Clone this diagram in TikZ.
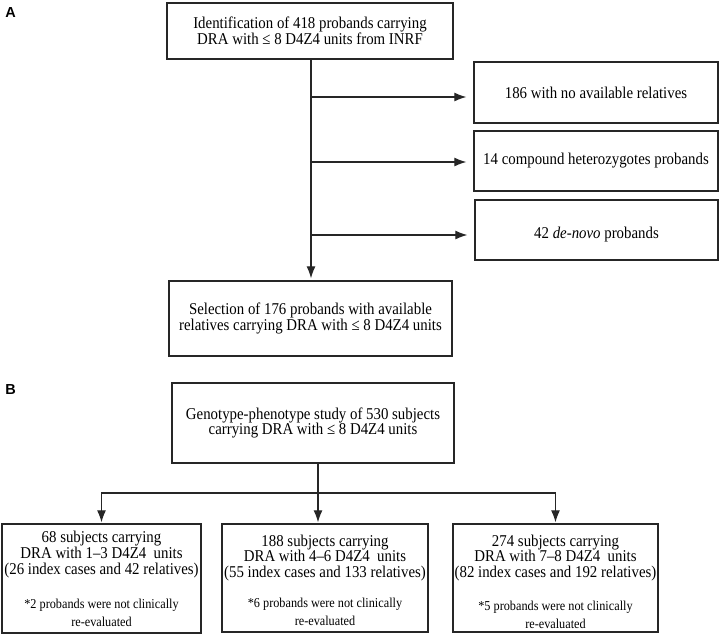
\documentclass[tikz,border=0pt]{standalone}
\usepackage{fontspec}
\setmainfont{Liberation Serif}[FakeStretch=0.9]
\newfontfamily\labelfont{Liberation Sans}
\usetikzlibrary{arrows.meta}
\newcommand\mainsz{\fontsize{16.5}{15.8}\selectfont}
\newcommand\notesz{\fontsize{13.6}{18}\selectfont}
\begin{document}
\begin{tikzpicture}[x=1pt,y=-1pt,
  box/.style={draw=black!85, line width=1.3pt, inner sep=0pt, align=center, font=\mainsz},
  txt/.style={inner sep=0pt, align=center, font=\mainsz},
  note/.style={inner sep=0pt, align=center, font=\notesz},
  arr/.style={draw=black!85, line width=1.2pt, -{Latex[length=12pt,width=9pt]}},
  ln/.style={draw=black!85, line width=1.2pt},
  panel/.style={inner sep=0pt, font=\labelfont\bfseries\fontsize{14.5}{14.5}\selectfont}]
\useasboundingbox (0,0) rectangle (720,635);

% panel labels
\node[panel] (pa) at (10.5,12.5) {A};
\node[panel] (pb) at (10.5,389.5) {B};

% ---------- Panel A ----------
\node[box, minimum width=286pt, minimum height=56pt] (a1) at (310,31)
  {Identification of 418 probands carrying\\DRA with ≤ 8 D4Z4 units from INRF};
\node[box, minimum width=244pt, minimum height=61pt] (r1) at (596,92.5)
  {186 with no available relatives};
\node[box, minimum width=244pt, minimum height=60pt] (r2) at (596,161)
  {14 compound heterozygotes probands};
\node[box, minimum width=243pt, minimum height=60pt] (r3) at (596.5,230) {};
\node[txt] (r3t) at (596.5,235) {42 \textit{de-novo} probands};
\node[box, minimum width=283pt, minimum height=75pt] (a2) at (310.5,318.5)
  {Selection of 176 probands with available\\relatives carrying DRA with ≤ 8 D4Z4 units};

\draw[arr, shorten >=2pt] (a1.south -| 311,0) -- (a2.north -| 311,0);
\coordinate (j1) at (311,97);
\coordinate (j2) at (311,162);
\coordinate (j3) at (311,235);
\draw[arr, shorten >=7pt] (j1) -- (j1 -| r1.west);
\draw[arr, shorten >=7pt] (j2) -- (j2 -| r2.west);
\draw[arr, shorten >=7pt] (j3) -- (j3 -| r3.west);

% ---------- Panel B ----------
\node[box, minimum width=282pt, minimum height=80pt] (b1) at (313,423)
  {Genotype-phenotype study of 530 subjects\\carrying DRA with ≤ 8 D4Z4 units};

\node[box, minimum width=199pt, minimum height=109pt] (c1) at (101.5,578.5) {};
\node[box, minimum width=206pt, minimum height=108pt] (c2) at (325,578) {};
\node[box, minimum width=205pt, minimum height=108pt] (c3) at (555.5,578) {};

\node[txt] (c1t) at (101.5,554.5)
  {68 subjects carrying\\DRA with 1--3 D4Z4~ units\\(26 index cases and 42 relatives)};
\node[note] (c1n) at (101.5,613) {*2 probands were not clinically\\re-evaluated};
\node[txt] (c2t) at (325,558)
  {188 subjects carrying\\DRA with 4--6 D4Z4~ units\\(55 index cases and 133 relatives)};
\node[note] (c2n) at (325,612) {*6 probands were not clinically\\re-evaluated};
\node[txt] (c3t) at (555.5,558)
  {274 subjects carrying\\DRA with 7--8 D4Z4~ units\\(82 index cases and 192 relatives)};
\node[note] (c3n) at (555.5,614.5) {*5 probands were not clinically\\re-evaluated};

\coordinate (hm) at (318,493);
\draw[ln] (hm |- b1.south) -- (hm);
\draw[arr, shorten >=1pt] (hm) -| (c1.north);
\draw[arr, shorten >=1pt] (hm) -| (c3.north);
\draw[arr, shorten >=1pt] (hm) -- (hm |- c2.north);
\end{tikzpicture}
\end{document}
